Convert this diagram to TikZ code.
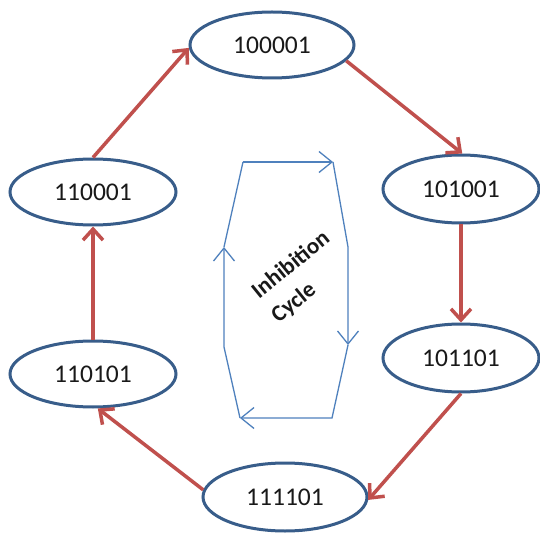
\documentclass[tikz,border=0pt]{standalone}
\usepackage{fontspec}
\setmainfont{Carlito}
\usetikzlibrary{shapes.geometric,arrows.meta}
\definecolor{ebord}{HTML}{385D8A}
\definecolor{ared}{HTML}{C0504D}
\definecolor{cblue}{HTML}{4F81BD}
\begin{document}
\begin{tikzpicture}[x=1pt,y=-1pt,
  state/.style={ellipse, draw=ebord, line width=3pt, fill=white, inner sep=0pt,
    font=\fontsize{25.5}{28}\selectfont, text=black!90},
  flow/.style={draw=ared, line width=3.5pt, -{Straight Barb[length=11pt,width=20pt]}},
  cyc/.style={draw=cblue, line width=1.3pt, line join=miter},
  cycarrow/.style={cyc, -{Straight Barb[length=13pt,width=21pt]}},
  lbl/.style={font=\bfseries\fontsize{23}{26}\selectfont, rotate=39, text=black!90, inner sep=0pt}]
\useasboundingbox (0,0) rectangle (540,534);
\fill[white] (0,0) rectangle (540,534);
% states
\node[state, minimum width=164pt, minimum height=66pt] (a) at (272,45) {100001};
\node[state, minimum width=156pt, minimum height=68pt] (b) at (461,189) {101001};
\node[state, minimum width=156pt, minimum height=68pt] (c) at (461,358) {101101};
\node[state, minimum width=164pt, minimum height=68pt] (d) at (285,497) {111101};
\node[state, minimum width=166pt, minimum height=66pt] (e) at (93,374) {110101};
\node[state, minimum width=166pt, minimum height=66pt] (f) at (93,192) {110001};
% transitions
\draw[flow] (f.90) -- (a.182);
\draw[flow] (a.-12) -- (b.88);
\draw[flow] (b.-90) -- (c.90);
\draw[flow] (c.-90) -- (d.-2);
\draw[flow] (d.175) -- (e.-82);
\draw[flow] (e.90) -- (f.-90);
% inhibition cycle
\coordinate (h1) at (243,162);
\coordinate (h2) at (333,162);
\coordinate (h3) at (348,247);
\coordinate (h4) at (348,345);
\coordinate (h5) at (332,418);
\coordinate (h6) at (240,418);
\coordinate (h7) at (224,347);
\coordinate (h8) at (224,247);
\draw[cycarrow] (h1) -- (h2);
\draw[cycarrow] (h2) -- (h3) -- (h4);
\draw[cycarrow] (h4) -- (h5) -- (h6);
\draw[cycarrow] (h6) -- (h7) -- (h8);
\draw[cyc] (h8) -- (h1);
\node[lbl] (t1) at (290,264) {Inhibition};
\node[lbl] (t2) at (294,303) {Cycle};
\end{tikzpicture}
\end{document}
